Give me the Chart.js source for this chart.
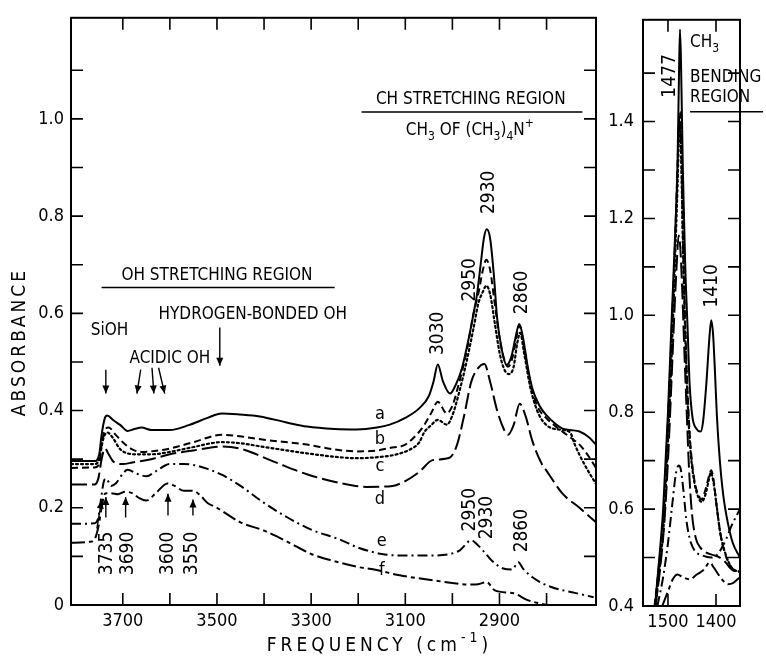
<!DOCTYPE html>
<html lang="en">
<head>
<meta charset="UTF-8">
<title>Absorbance - CH and OH stretching, CH3 bending</title>
<script src="https://cdn.jsdelivr.net/npm/chart.js"></script>
<style>
  body { margin: 0; background: #fff; }
  .wrap { position: relative; width: 766px; height: 660px; }
  #stretchChart { position: absolute; left: 0; top: 0; }
  #bendChart { position: absolute; left: 600px; top: 0; }
</style>
</head>
<body>
<div class="wrap">
  <canvas id="stretchChart" width="610" height="660"></canvas>
  <canvas id="bendChart" width="166" height="660"></canvas>
</div>
<script>
// ---- data: [frequency cm-1, absorbance] ----
// stretching region (left panel)
const stretchA = [[3810,0.296],[3760,0.296],[3750,0.31],[3745,0.35],[3738,0.385],[3733,0.39],[3720,0.38],[3705,0.37],[3690,0.358],[3675,0.362],[3660,0.365],[3640,0.36],[3600,0.36],[3560,0.37],[3520,0.385],[3490,0.394],[3452,0.392],[3409,0.388],[3350,0.375],[3309,0.367],[3250,0.362],[3203,0.361],[3160,0.365],[3133,0.371],[3100,0.385],[3070,0.405],[3050,0.43],[3040,0.46],[3031,0.495],[3020,0.46],[3005,0.435],[2992,0.455],[2980,0.486],[2965,0.55],[2955,0.6],[2948,0.637],[2940,0.7],[2933,0.755],[2927,0.773],[2920,0.755],[2912,0.68],[2905,0.59],[2895,0.525],[2885,0.494],[2875,0.51],[2866,0.55],[2858,0.578],[2850,0.55],[2840,0.49],[2830,0.445],[2815,0.41],[2800,0.39],[2780,0.372],[2766,0.363],[2750,0.36],[2730,0.357],[2710,0.345],[2695,0.33]];
const stretchB = [[3810,0.282],[3760,0.283],[3750,0.29],[3745,0.33],[3738,0.36],[3730,0.365],[3715,0.35],[3700,0.335],[3680,0.32],[3660,0.315],[3640,0.316],[3600,0.322],[3550,0.335],[3490,0.35],[3452,0.347],[3400,0.34],[3309,0.33],[3250,0.32],[3203,0.316],[3160,0.318],[3133,0.323],[3100,0.33],[3070,0.357],[3060,0.37],[3045,0.395],[3031,0.418],[3012,0.394],[3000,0.41],[2985,0.46],[2970,0.52],[2955,0.6],[2945,0.64],[2935,0.69],[2928,0.71],[2920,0.69],[2910,0.62],[2900,0.55],[2890,0.505],[2882,0.49],[2872,0.51],[2862,0.56],[2857,0.575],[2848,0.53],[2835,0.46],[2820,0.41],[2800,0.384],[2780,0.367],[2750,0.345],[2730,0.33],[2710,0.305],[2695,0.282]];
const stretchC = [[3810,0.29],[3760,0.29],[3750,0.3],[3742,0.34],[3733,0.355],[3722,0.345],[3705,0.32],[3690,0.312],[3670,0.31],[3640,0.31],[3600,0.315],[3550,0.325],[3490,0.335],[3452,0.333],[3400,0.325],[3309,0.312],[3250,0.305],[3203,0.302],[3150,0.305],[3118,0.31],[3090,0.32],[3070,0.335],[3060,0.355],[3045,0.37],[3031,0.381],[3012,0.371],[3000,0.39],[2985,0.44],[2970,0.5],[2955,0.57],[2945,0.62],[2935,0.645],[2928,0.657],[2920,0.64],[2910,0.58],[2900,0.52],[2890,0.485],[2880,0.475],[2870,0.49],[2862,0.54],[2856,0.56],[2848,0.52],[2835,0.45],[2820,0.4],[2800,0.37],[2766,0.36],[2750,0.355],[2740,0.33],[2720,0.29],[2695,0.249]];
const stretchD = [[3810,0.248],[3760,0.248],[3752,0.26],[3745,0.3],[3738,0.322],[3730,0.31],[3720,0.295],[3700,0.29],[3680,0.293],[3640,0.3],[3600,0.31],[3550,0.318],[3490,0.326],[3452,0.322],[3382,0.296],[3309,0.269],[3239,0.251],[3182,0.243],[3127,0.245],[3100,0.255],[3070,0.274],[3042,0.298],[3006,0.303],[2990,0.33],[2975,0.39],[2960,0.459],[2945,0.488],[2932,0.496],[2920,0.46],[2905,0.4],[2890,0.36],[2882,0.35],[2870,0.37],[2857,0.414],[2845,0.39],[2830,0.337],[2810,0.29],[2800,0.276],[2766,0.229],[2730,0.2],[2695,0.17]];
const stretchE = [[3810,0.167],[3760,0.168],[3752,0.18],[3746,0.22],[3740,0.255],[3735,0.26],[3725,0.245],[3715,0.25],[3700,0.27],[3690,0.278],[3670,0.27],[3650,0.265],[3630,0.275],[3600,0.29],[3570,0.29],[3550,0.288],[3520,0.28],[3490,0.268],[3450,0.245],[3400,0.21],[3350,0.18],[3300,0.155],[3240,0.135],[3200,0.118],[3150,0.105],[3112,0.102],[3042,0.102],[2985,0.112],[2960,0.133],[2948,0.125],[2935,0.112],[2915,0.09],[2892,0.075],[2873,0.073],[2860,0.088],[2850,0.075],[2830,0.057],[2790,0.037],[2740,0.025],[2700,0.016]];
const stretchF = [[3810,0.128],[3770,0.13],[3760,0.135],[3752,0.16],[3745,0.2],[3740,0.225],[3735,0.23],[3725,0.23],[3710,0.228],[3695,0.233],[3680,0.23],[3665,0.22],[3650,0.215],[3630,0.23],[3605,0.25],[3590,0.245],[3570,0.235],[3550,0.235],[3535,0.225],[3520,0.21],[3500,0.2],[3450,0.17],[3400,0.153],[3350,0.13],[3300,0.105],[3250,0.09],[3200,0.078],[3161,0.072],[3112,0.061],[3042,0.051],[2980,0.043],[2950,0.042],[2927,0.047],[2910,0.03],[2870,0.024],[2840,0.01],[2800,0.0]];

// bending region (right panel)
const bendA = [[1527,0.40],[1518,0.5],[1510,0.6],[1500,0.8],[1492,1.0],[1485,1.17],[1480,1.32],[1477,1.5],[1475,1.59],[1473,1.53],[1469,1.3],[1464,1.1],[1459,0.97],[1455,0.86],[1449,0.79],[1440,0.765],[1432,0.76],[1427,0.78],[1420,0.86],[1414,0.95],[1410,0.99],[1406,0.96],[1402,0.88],[1398,0.79],[1392,0.7],[1385,0.63],[1375,0.57],[1365,0.53],[1350,0.5]];
const bendB = [[1528,0.40],[1518,0.49],[1510,0.58],[1501,0.76],[1493,0.95],[1486,1.13],[1481,1.28],[1477,1.40],[1475,1.42],[1473,1.37],[1469,1.17],[1464,0.98],[1459,0.84],[1453,0.73],[1445,0.66],[1437,0.63],[1430,0.62],[1422,0.64],[1414,0.67],[1410,0.68],[1405,0.66],[1398,0.6],[1390,0.545],[1380,0.505],[1368,0.48],[1350,0.47]];
const bendC = [[1526,0.40],[1516,0.49],[1508,0.58],[1499,0.76],[1491,0.95],[1485,1.12],[1480,1.27],[1477,1.37],[1475,1.40],[1473,1.35],[1469,1.15],[1464,0.96],[1459,0.82],[1453,0.72],[1445,0.655],[1437,0.625],[1430,0.615],[1422,0.63],[1415,0.66],[1411,0.675],[1406,0.66],[1399,0.61],[1391,0.55],[1381,0.51],[1368,0.48],[1350,0.47]];
const bendD = [[1526,0.40],[1516,0.48],[1507,0.58],[1499,0.72],[1492,0.88],[1486,1.02],[1481,1.12],[1478,1.165],[1475,1.15],[1471,1.07],[1466,0.93],[1461,0.8],[1456,0.68],[1450,0.59],[1442,0.54],[1432,0.52],[1420,0.51],[1405,0.505],[1392,0.5],[1380,0.49],[1370,0.478],[1360,0.472],[1350,0.48]];
const bendE = [[1522,0.40],[1510,0.46],[1500,0.53],[1491,0.61],[1484,0.67],[1478,0.69],[1474,0.685],[1468,0.64],[1462,0.58],[1455,0.54],[1445,0.515],[1430,0.505],[1410,0.5],[1398,0.505],[1388,0.52],[1378,0.54],[1368,0.565],[1358,0.585],[1350,0.6]];
const bendF = [[1512,0.40],[1500,0.43],[1490,0.455],[1480,0.465],[1470,0.46],[1455,0.455],[1440,0.465],[1425,0.475],[1413,0.49],[1405,0.48],[1395,0.465],[1385,0.452],[1375,0.445],[1365,0.447],[1355,0.455],[1350,0.46]];

// ticks
const stretchXLabels = [3700, 3500, 3300, 3100, 2900];
const stretchXMarks = [3700, 3600, 3500, 3400, 3300, 3200, 3100, 3000, 2900, 2800];
const stretchYLabels = [0, 0.2, 0.4, 0.6, 0.8, 1.0];
const stretchYMarks = [0.1, 0.2, 0.3, 0.4, 0.5, 0.6, 0.7, 0.8, 0.9, 1.0, 1.1];
const bendXLabels = [1500, 1400];
const bendYLabels = [0.4, 0.6, 0.8, 1.0, 1.2, 1.4];
const bendYMarks = [0.5, 0.6, 0.7, 0.8, 0.9, 1.0, 1.1, 1.2, 1.3, 1.4, 1.5];

const FONT = '"DejaVu Sans Condensed", "Liberation Sans Narrow", "DejaVu Sans", sans-serif';

function pts(arr) { return arr.map(p => ({ x: p[0], y: p[1] })); }
function fmtY(v) { return v === 0 ? '0' : v.toFixed(1); }

const dashes = { a: [], b: [7, 4], c: [2, 3], d: [16, 5], e: [10, 4, 2, 4], f: [14, 4, 4, 4] };
function makeSets(list) {
  return list.map(([name, arr]) => ({
    label: name,
    data: pts(arr),
    showLine: true,
    borderColor: '#000',
    borderWidth: name === 'c' ? 2.2 : 2,
    borderDash: dashes[name],
    borderCapStyle: name === 'c' ? 'round' : 'butt',
    pointRadius: 0,
    cubicInterpolationMode: 'monotone',
    fill: false
  }));
}

function drawFrame(chart, xMarks, yMarks, len) {
  const { ctx, chartArea: a, scales: { x, y } } = chart;
  ctx.save();
  ctx.strokeStyle = '#000';
  ctx.lineWidth = 2;
  ctx.strokeRect(a.left, a.top, a.right - a.left, a.bottom - a.top);
  ctx.lineWidth = 1.6;
  ctx.beginPath();
  xMarks.forEach(v => {
    const px = x.getPixelForValue(v);
    ctx.moveTo(px, a.bottom); ctx.lineTo(px, a.bottom - len);
    ctx.moveTo(px, a.top); ctx.lineTo(px, a.top + len);
  });
  yMarks.forEach(v => {
    const py = y.getPixelForValue(v);
    ctx.moveTo(a.left, py); ctx.lineTo(a.left + len, py);
    ctx.moveTo(a.right, py); ctx.lineTo(a.right - len, py);
  });
  ctx.stroke();
  ctx.restore();
}

function rotText(ctx, s, px, py) {
  ctx.save();
  ctx.translate(px, py);
  ctx.rotate(-Math.PI / 2);
  ctx.fillText(s, 0, 0);
  ctx.restore();
}

function arrow(ctx, x1, y1, x2, y2) {
  const ang = Math.atan2(y2 - y1, x2 - x1);
  ctx.beginPath();
  ctx.moveTo(x1, y1); ctx.lineTo(x2, y2);
  ctx.stroke();
  ctx.beginPath();
  ctx.moveTo(x2, y2);
  ctx.lineTo(x2 - 8 * Math.cos(ang) + 3.5 * Math.sin(ang), y2 - 8 * Math.sin(ang) - 3.5 * Math.cos(ang));
  ctx.lineTo(x2 - 8 * Math.cos(ang) - 3.5 * Math.sin(ang), y2 - 8 * Math.sin(ang) + 3.5 * Math.cos(ang));
  ctx.closePath();
  ctx.fill();
}

// rich text: parts of [text, shift] with shift 0 normal, 1 subscript, -1 superscript
function richText(ctx, parts, cx, cy, size, align) {
  const widths = parts.map(([t, s]) => {
    ctx.font = (s ? Math.round(size * 0.72) : size) + 'px ' + FONT;
    return ctx.measureText(t).width;
  });
  const total = widths.reduce((p, w) => p + w, 0);
  let xx = align === 'left' ? cx : cx - total / 2;
  ctx.save();
  ctx.textAlign = 'left';
  parts.forEach(([t, s], i) => {
    ctx.font = (s ? Math.round(size * 0.72) : size) + 'px ' + FONT;
    ctx.fillText(t, xx, cy + (s === 1 ? size * 0.35 : s === -1 ? -size * 0.4 : 0));
    xx += widths[i];
  });
  ctx.restore();
}

const stretchDeco = {
  id: 'stretchDeco',
  afterDraw(chart) {
    const { ctx, chartArea: a, scales: { x, y } } = chart;
    drawFrame(chart, stretchXMarks, stretchYMarks, 12);
    const X = v => x.getPixelForValue(v), Y = v => y.getPixelForValue(v);
    ctx.save();
    ctx.fillStyle = '#000';
    ctx.strokeStyle = '#000';
    ctx.textAlign = 'center';
    ctx.textBaseline = 'middle';

    // headings
    ctx.font = '17px ' + FONT;
    ctx.fillText('OH STRETCHING REGION', X(3500), Y(0.678));
    ctx.fillText('HYDROGEN-BONDED OH', X(3424), Y(0.597));
    ctx.fillText('ACIDIC OH', X(3600), Y(0.506));
    ctx.fillText('SiOH', X(3728), Y(0.565));
    ctx.fillText('CH STRETCHING REGION', X(2961), Y(1.039));
    richText(ctx, [['CH', 0], ['3', 1], [' OF (CH', 0], ['3', 1], [')', 0], ['4', 1], ['N', 0], ['+', -1]], X(2963), Y(0.976), 17);

    ctx.lineWidth = 1.5;
    ctx.beginPath();
    ctx.moveTo(X(3745), Y(0.653)); ctx.lineTo(X(3250), Y(0.653));
    ctx.moveTo(X(3193), Y(1.014)); ctx.lineTo(X(2724), Y(1.014));
    ctx.stroke();

    // arrows (tail -> head)
    ctx.lineWidth = 1.4;
    [[3736, 0.484, 3736, 0.435], [3662, 0.484, 3670, 0.435], [3638, 0.488, 3634, 0.435],
     [3624, 0.488, 3611, 0.435], [3494, 0.571, 3494, 0.492],
     [3736, 0.18, 3736, 0.222], [3694, 0.18, 3694, 0.222], [3604, 0.184, 3604, 0.229],
     [3551, 0.184, 3551, 0.217], [3755, 0.157, 3745, 0.215]]
      .forEach(r => arrow(ctx, X(r[0]), Y(r[1]), X(r[2]), Y(r[3])));

    // peak labels
    ctx.font = '19px ' + FONT;
    [['3735', 3734, 0.106], ['3690', 3689, 0.106], ['3600', 3604, 0.106], ['3550', 3553, 0.106],
     ['3030', 3031, 0.559], ['2950', 2963, 0.669], ['2930', 2923, 0.849], ['2860', 2851, 0.643],
     ['2950', 2963, 0.196], ['2930', 2927, 0.18], ['2860', 2853, 0.153]]
      .forEach(r => rotText(ctx, r[0], X(r[1]), Y(r[2])));

    // curve letters
    ctx.font = '18px ' + FONT;
    [['a', 3154, 0.392], ['b', 3154, 0.341], ['c', 3154, 0.286], ['d', 3154, 0.218],
     ['e', 3150, 0.131], ['f', 3150, 0.071]]
      .forEach(r => ctx.fillText(r[0], X(r[1]), Y(r[2])));

    // axis titles
    ctx.font = '19px ' + FONT;
    ctx.letterSpacing = '3px';
    rotText(ctx, 'ABSORBANCE', a.left - 51, Y(0.541));
    ctx.letterSpacing = '4px';
    richText(ctx, [['FREQUENCY (cm', 0], ['-1', -1], [')', 0]], X(3155), a.bottom + 41, 19);
    ctx.restore();
  }
};

const bendDeco = {
  id: 'bendDeco',
  afterDraw(chart) {
    const { ctx, scales: { x, y } } = chart;
    drawFrame(chart, bendXLabels, bendYMarks, 12);
    const X = v => x.getPixelForValue(v), Y = v => y.getPixelForValue(v);
    ctx.save();
    ctx.fillStyle = '#000';
    ctx.strokeStyle = '#000';
    ctx.textBaseline = 'middle';
    richText(ctx, [['CH', 0], ['3', 1]], X(1454), Y(1.562), 17, 'left');
    ctx.textAlign = 'left';
    ctx.font = '17px ' + FONT;
    ctx.fillText('BENDING', X(1454), Y(1.49));
    ctx.fillText('REGION', X(1454), Y(1.449));
    ctx.lineWidth = 1.5;
    ctx.beginPath();
    ctx.moveTo(X(1454), Y(1.42)); ctx.lineTo(X(1302), Y(1.42));
    ctx.stroke();
    ctx.textAlign = 'center';
    ctx.font = '19px ' + FONT;
    rotText(ctx, '1477', X(1496), Y(1.494));
    rotText(ctx, '1410', X(1408), Y(1.061));
    ctx.restore();
  }
};

Chart.defaults.font.family = FONT;
Chart.defaults.color = '#000';

function axisX(min, max, labels, h) {
  return {
    type: 'linear', reverse: true, min: min, max: max,
    grid: { display: false, drawTicks: false },
    border: { display: false },
    ticks: { font: { size: 18 }, color: '#000', padding: 6, maxRotation: 0, autoSkip: false,
             callback: v => labels.includes(v) ? String(v) : '' },
    afterBuildTicks: s => { s.ticks = labels.map(v => ({ value: v })); },
    afterFit: s => { s.height = h; }
  };
}
function axisY(min, max, labels, w, pad) {
  return {
    type: 'linear', min: min, max: max,
    grid: { display: false, drawTicks: false },
    border: { display: false },
    ticks: { font: { size: 18 }, color: '#000', padding: pad, autoSkip: false,
             callback: v => fmtY(v) },
    afterBuildTicks: s => { s.ticks = labels.map(v => ({ value: v })); },
    afterFit: s => { s.width = w; }
  };
}

new Chart(document.getElementById('stretchChart'), {
  type: 'scatter',
  data: { datasets: makeSets([['a', stretchA], ['b', stretchB], ['c', stretchC], ['d', stretchD], ['e', stretchE], ['f', stretchF]]) },
  options: {
    responsive: false,
    animation: false,
    layout: { padding: { top: 13, right: 14, left: 0, bottom: 0 } },
    plugins: { legend: { display: false }, tooltip: { enabled: false } },
    scales: {
      x: axisX(2695, 3810, stretchXLabels, 55),
      y: axisY(0, 1.208, stretchYLabels, 71, 7)
    }
  },
  plugins: [stretchDeco]
});

new Chart(document.getElementById('bendChart'), {
  type: 'scatter',
  data: { datasets: makeSets([['a', bendA], ['b', bendB], ['c', bendC], ['d', bendD], ['e', bendE], ['f', bendF]]) },
  options: {
    responsive: false,
    animation: false,
    layout: { padding: { top: 13, right: 26, left: 0, bottom: 0 } },
    plugins: { legend: { display: false }, tooltip: { enabled: false } },
    scales: {
      x: axisX(1350, 1552, bendXLabels, 54),
      y: axisY(0.4, 1.61, bendYLabels, 43, 9)
    }
  },
  plugins: [bendDeco]
});
</script>
</body>
</html>
